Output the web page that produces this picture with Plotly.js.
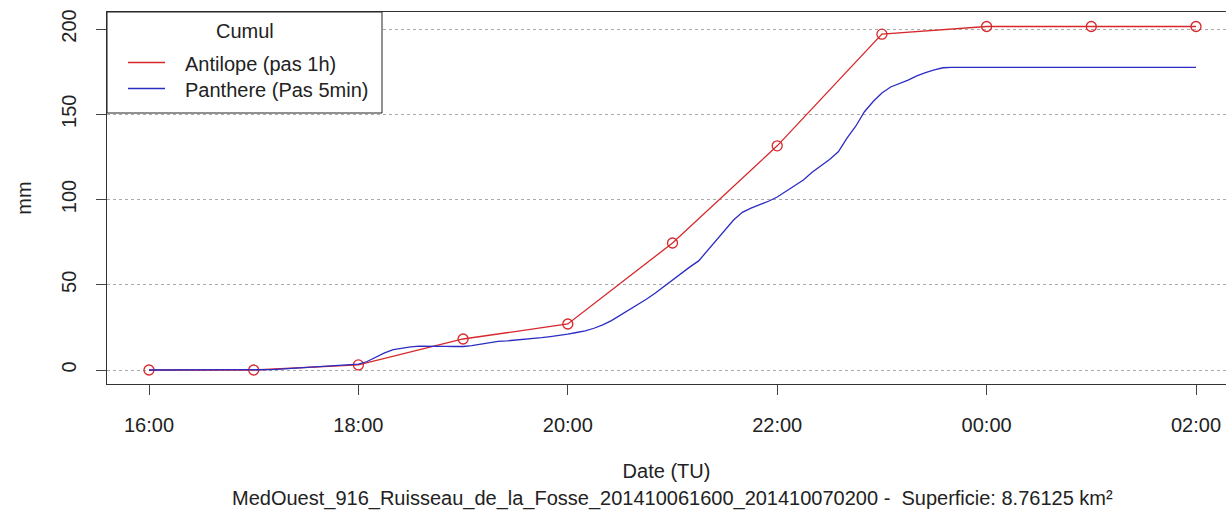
<!DOCTYPE html>
<html>
<head>
<meta charset="utf-8">
<script src="https://cdn.plot.ly/plotly-3.0.1.min.js"></script>
<style>html,body{margin:0;padding:0;background:#fff;}#chart{width:1226px;height:510px;}</style>
</head>
<body>
<div id="chart"></div>
<script>
// ---- data ----
const seriesNames = ["Antilope (pas 1h)", "Panthere (Pas 5min)"];
const legendTitle = "Cumul";
const xTitle = "Date (TU)";
const subTitle = "MedOuest_916_Ruisseau_de_la_Fosse_201410061600_201410070200 -  Superficie: 8.76125 km²";
const yTitle = "mm";

const antilopeTimes = ["16:00","17:00","18:00","19:00","20:00","21:00","22:00","23:00","00:00","01:00","02:00"];
const antilopeValues = [0, 0, 3, 18.2, 27, 74.5, 131.5, 197, 201.5, 201.5, 201.5];

const pantherTimes = [
 "16:00","16:05","16:10","16:15","16:20","16:25","16:30","16:35","16:40","16:45","16:50","16:55",
 "17:00","17:05","17:10","17:15","17:20","17:25","17:30","17:35","17:40","17:45","17:50","17:55",
 "18:00","18:05","18:10","18:15","18:20","18:25","18:30","18:35","18:40","18:45","18:50","18:55",
 "19:00","19:05","19:10","19:15","19:20","19:25","19:30","19:35","19:40","19:45","19:50","19:55",
 "20:00","20:05","20:10","20:15","20:20","20:25","20:30","20:35","20:40","20:45","20:50","20:55",
 "21:00","21:05","21:10","21:15","21:20","21:25","21:30","21:35","21:40","21:45","21:50","21:55",
 "22:00","22:05","22:10","22:15","22:20","22:25","22:30","22:35","22:40","22:45","22:50","22:55",
 "23:00","23:05","23:10","23:15","23:20","23:25","23:30","23:35","23:40","23:45","23:50","23:55",
 "00:00","00:05","00:10","00:15","00:20","00:25","00:30","00:35","00:40","00:45","00:50","00:55",
 "01:00","01:05","01:10","01:15","01:20","01:25","01:30","01:35","01:40","01:45","01:50","01:55",
 "02:00"];
const pantherValues = [
 0,0,0,0,0,0,0,0,0,0,0,0,
 0,0,0.2,0.5,0.8,1.2,1.5,1.8,2.1,2.4,2.7,3.0,
 3.5,5,7.5,10,12,13,13.6,14,14.1,14,13.9,13.8,
 13.8,14.3,15.2,16.2,16.8,17.1,17.5,17.9,18.4,19,19.6,20.2,
 21,22,23,24.5,26.5,29,32,35.5,38.5,41.5,45,49,
 53,57,60.5,64,70,76,82,88,92.5,95,97,99,
 101.5,105,108,111.5,116,119.5,123.5,128,136,143,151.5,157.5,
 162.5,166,168,170,172.5,174.5,176,177.3,177.5,177.5,177.5,177.5,
 177.5,177.5,177.5,177.5,177.5,177.5,177.5,177.5,177.5,177.5,177.5,177.5,
 177.5,177.5,177.5,177.5,177.5,177.5,177.5,177.5,177.5,177.5,177.5,177.5,
 177.5];

const xTickLabels = ["16:00","18:00","20:00","22:00","00:00","02:00"];
const yTickValues = [0, 50, 100, 150, 200];

// ---- helpers: HH:MM -> full timestamp (day rolls over after midnight) ----
function toStamp(hhmm) {
  const h = parseInt(hhmm.slice(0, 2), 10);
  const day = h < 12 ? "2014-10-07" : "2014-10-06";
  return day + " " + hhmm + ":00";
}

const redColor = "rgb(214,40,44)";
const blueColor = "rgb(44,44,196)";
const font = "Liberation Sans, Arial, sans-serif";

const traces = [
  {
    x: antilopeTimes.map(toStamp), y: antilopeValues, name: seriesNames[0],
    type: "scatter", mode: "lines+markers",
    line: {color: redColor, width: 1.3},
    marker: {symbol: "circle-open", size: 10, color: redColor, line: {width: 1.3, color: redColor}},
    showlegend: false
  },
  {
    x: pantherTimes.map(toStamp), y: pantherValues, name: seriesNames[1],
    type: "scatter", mode: "lines",
    line: {color: blueColor, width: 1.3},
    showlegend: false
  }
];

// pixel helpers for legend box (paper coords)
const L = 107, R = 1226, T = 12, B = 384;
const px = p => (p - L) / (R - L);
const py = p => (B - p) / (B - T);

const layout = {
  width: 1226, height: 510,
  margin: {l: L, r: 1226 - R, t: T, b: 510 - B},
  paper_bgcolor: "#fff", plot_bgcolor: "#fff",
  font: {family: font, size: 20, color: "#222"},
  showlegend: false,
  xaxis: {
    type: "date",
    range: ["2014-10-06 15:35:56", "2014-10-07 02:17:11"],
    tickvals: xTickLabels.map(toStamp),
    ticktext: xTickLabels,
    ticks: "outside", ticklen: 10, tickcolor: "#444", tickwidth: 1,
    ticklabelstandoff: 13,
    showline: true, mirror: true, linecolor: "#333", linewidth: 1,
    showgrid: false, zeroline: false,
    tickfont: {size: 20, color: "#222"},
    title: {text: xTitle, font: {size: 20, color: "#222"}, standoff: 28}
  },
  yaxis: {
    range: [-8.2, 210],
    tickvals: yTickValues,
    ticktext: yTickValues.map(String),
    tickangle: -90,
    ticks: "outside", ticklen: 10, tickcolor: "#444", tickwidth: 1,
    ticklabelstandoff: 12,
    showline: true, mirror: false, linecolor: "#333", linewidth: 1,
    showgrid: true, gridcolor: "#aaaaaa", griddash: "dot", gridwidth: 1,
    zeroline: false,
    tickfont: {size: 20, color: "#222"},
    title: {text: yTitle, font: {size: 20, color: "#222"}, standoff: 21}
  },
  shapes: [
    {type: "rect", xref: "paper", yref: "paper", x0: 0, x1: px(382), y0: py(113), y1: 1,
     fillcolor: "#fff", line: {color: "#222", width: 1}, layer: "above"},
    {type: "line", xref: "paper", yref: "paper", x0: px(128), x1: px(165), y0: py(62.5), y1: py(62.5),
     line: {color: redColor, width: 1.3}, layer: "above"},
    {type: "line", xref: "paper", yref: "paper", x0: px(128), x1: px(165), y0: py(88.5), y1: py(88.5),
     line: {color: blueColor, width: 1.3}, layer: "above"}
  ],
  annotations: [
    {text: legendTitle, xref: "paper", yref: "paper", x: px(245), y: py(31.5), xanchor: "center", yanchor: "middle",
     showarrow: false, font: {size: 20, color: "#222"}},
    {text: seriesNames[0], xref: "paper", yref: "paper", x: px(183), y: py(64), xanchor: "left", yanchor: "middle",
     showarrow: false, font: {size: 20, color: "#222"}},
    {text: seriesNames[1], xref: "paper", yref: "paper", x: px(183), y: py(89.5), xanchor: "left", yanchor: "middle",
     showarrow: false, font: {size: 20, color: "#222"}},
    {text: subTitle, xref: "paper", yref: "paper", x: px(672.5), y: py(498), xanchor: "center", yanchor: "middle",
     showarrow: false, font: {size: 20, color: "#222"}}
  ]
};

Plotly.newPlot("chart", traces, layout, {displayModeBar: false, staticPlot: true});
</script>
</body>
</html>
